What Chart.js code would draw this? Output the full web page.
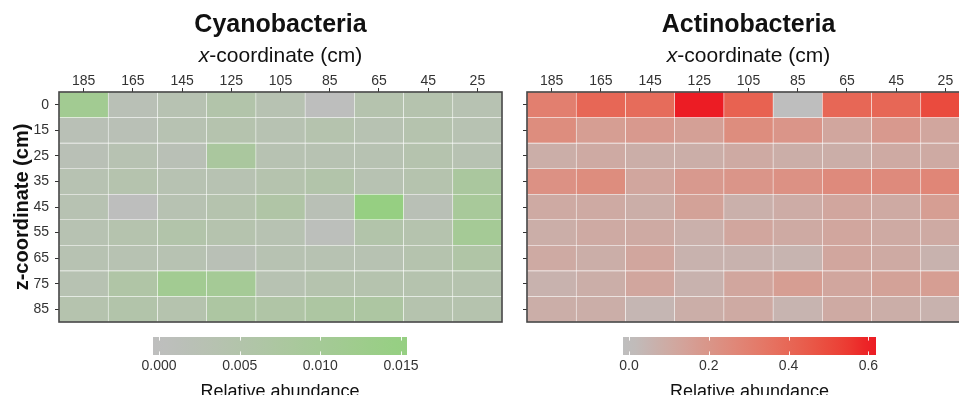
<!DOCTYPE html>
<html>
<head>
<meta charset="utf-8">
<script src="https://cdn.jsdelivr.net/npm/chart.js@4.4.1/dist/chart.umd.min.js"></script>
<style>
  html, body { margin: 0; padding: 0; background: #fff; overflow: hidden; }
  body { position: relative; width: 959px; height: 395px; }
  canvas { position: absolute; }
</style>
</head>
<body>
<canvas id="cyano" width="520" height="330" style="left:0;top:0"></canvas>
<canvas id="actino" width="480" height="330" style="left:500px;top:0"></canvas>
<canvas id="cyanoBar" width="360" height="80" style="left:100px;top:328px"></canvas>
<canvas id="actinoBar" width="380" height="80" style="left:560px;top:328px"></canvas>
<script>
const xLabels = ['185', '165', '145', '125', '105', '85', '65', '45', '25']
const zLabels = ['0', '15', '25', '35', '45', '55', '65', '75', '85']

// relative abundance: one row per z-coordinate, one column per x-coordinate
const cyanoValues = [
  [0.011, 0.002, 0.003, 0.005, 0.003, 0.0003, 0.004, 0.004, 0.003],
  [0.002, 0.002, 0.003, 0.004, 0.003, 0.004, 0.003, 0.004, 0.003],
  [0.002, 0.003, 0.002, 0.008, 0.003, 0.003, 0.003, 0.004, 0.003],
  [0.003, 0.004, 0.003, 0.003, 0.004, 0.005, 0.003, 0.004, 0.008],
  [0.003, 0.0003, 0.003, 0.004, 0.006, 0.002, 0.015, 0.002, 0.009],
  [0.003, 0.004, 0.005, 0.004, 0.003, 0.0008, 0.005, 0.004, 0.010],
  [0.003, 0.003, 0.003, 0.002, 0.003, 0.003, 0.003, 0.004, 0.006],
  [0.003, 0.006, 0.011, 0.010, 0.003, 0.004, 0.004, 0.004, 0.004],
  [0.004, 0.005, 0.004, 0.007, 0.006, 0.007, 0.007, 0.004, 0.004]
]
const actinoValues = [
  [0.30, 0.40, 0.38, 0.604, 0.42, 0.0, 0.40, 0.40, 0.50],
  [0.24, 0.16, 0.18, 0.15, 0.24, 0.20, 0.12, 0.18, 0.12],
  [0.08, 0.10, 0.08, 0.08, 0.10, 0.08, 0.08, 0.10, 0.10],
  [0.22, 0.24, 0.12, 0.18, 0.20, 0.22, 0.25, 0.25, 0.27],
  [0.10, 0.10, 0.08, 0.14, 0.07, 0.09, 0.12, 0.10, 0.16],
  [0.08, 0.10, 0.10, 0.07, 0.12, 0.10, 0.12, 0.10, 0.10],
  [0.10, 0.08, 0.12, 0.06, 0.06, 0.05, 0.12, 0.10, 0.06],
  [0.06, 0.08, 0.12, 0.06, 0.12, 0.16, 0.12, 0.14, 0.16],
  [0.08, 0.08, 0.04, 0.08, 0.10, 0.05, 0.10, 0.08, 0.06]
]

const cyanoLimits = [0, 0.015]
const actinoLimits = [0, 0.604]
const cyanoTicks = [0, 0.005, 0.010, 0.015]
const actinoTicks = [0, 0.2, 0.4, 0.6]

const FONT = '"Liberation Sans", Arial, sans-serif'
Chart.defaults.font.family = FONT
Chart.defaults.color = '#333'

// gradient between two colours, interpolated in CIELAB
function hexToRgb(h) {
  const n = parseInt(h.slice(1), 16)
  return [(n >> 16) & 255, (n >> 8) & 255, n & 255]
}
const toLinear = c => { c /= 255; return c <= 0.04045 ? c / 12.92 : Math.pow((c + 0.055) / 1.055, 2.4) }
const fromLinear = c => {
  const v = c <= 0.0031308 ? 12.92 * c : 1.055 * Math.pow(c, 1 / 2.4) - 0.055
  return Math.round(Math.min(1, Math.max(0, v)) * 255)
}
const WHITE = [0.95047, 1, 1.08883]
function rgbToLab(rgb) {
  const [r, g, b] = rgb.map(toLinear)
  const x = (0.4124 * r + 0.3576 * g + 0.1805 * b) / WHITE[0]
  const y = (0.2126 * r + 0.7152 * g + 0.0722 * b) / WHITE[1]
  const z = (0.0193 * r + 0.1192 * g + 0.9505 * b) / WHITE[2]
  const f = t => t > 0.008856 ? Math.cbrt(t) : 7.787 * t + 16 / 116
  const fx = f(x), fy = f(y), fz = f(z)
  return [116 * fy - 16, 500 * (fx - fy), 200 * (fy - fz)]
}
function labToRgb([L, a, bb]) {
  const fy = (L + 16) / 116, fx = fy + a / 500, fz = fy - bb / 200
  const finv = t => t * t * t > 0.008856 ? t * t * t : (t - 16 / 116) / 7.787
  const x = finv(fx) * WHITE[0], y = finv(fy) * WHITE[1], z = finv(fz) * WHITE[2]
  const r = 3.2406 * x - 1.5372 * y - 0.4986 * z
  const g = -0.9689 * x + 1.8758 * y + 0.0415 * z
  const b = 0.0557 * x - 0.2040 * y + 1.0570 * z
  return [r, g, b].map(fromLinear)
}
function makeColorScale(lowHex, highHex, limits) {
  const lo = rgbToLab(hexToRgb(lowHex)), hi = rgbToLab(hexToRgb(highHex))
  return v => {
    let t = (v - limits[0]) / (limits[1] - limits[0])
    t = Math.min(1, Math.max(0, t))
    const c = labToRgb(lo.map((l, i) => l + (hi[i] - l) * t))
    return `rgb(${c[0]},${c[1]},${c[2]})`
  }
}

const cyanoColor = makeColorScale('#bebebe', '#96cf82', cyanoLimits)
const actinoColor = makeColorScale('#bebebe', '#ec1c24', actinoLimits)

// frame around the panel, panel title and the x axis title (italic x)
const panelDecor = {
  id: 'panelDecor',
  afterDraw(chart, args, opts) {
    const { ctx, chartArea: a } = chart
    ctx.save()
    ctx.strokeStyle = '#454545'
    ctx.lineWidth = 1.6
    ctx.strokeRect(a.left, a.top, a.right - a.left, a.bottom - a.top)

    const cx = (a.left + a.right) / 2
    ctx.fillStyle = '#111'
    ctx.textBaseline = 'alphabetic'
    ctx.textAlign = 'center'
    ctx.font = 'bold 25px ' + FONT
    ctx.fillText(opts.title, cx, 32)

    const italic = 'italic 21px ' + FONT
    const plain = '21px ' + FONT
    const rest = '-coordinate (cm)'
    ctx.font = italic
    const w1 = ctx.measureText('x').width
    ctx.font = plain
    const w2 = ctx.measureText(rest).width
    const x0 = cx - (w1 + w2) / 2
    ctx.textAlign = 'left'
    ctx.font = italic
    ctx.fillText('x', x0, 62)
    ctx.font = plain
    ctx.fillText(rest, x0 + w1, 62)
    ctx.restore()
  }
}

function heatmap(id, title, values, colorOf, yWidth, padRight, showZ) {
  // one floating-bar dataset per z row, each bar spans one row of the reversed y scale
  const datasets = values.map((row, r) => ({
    data: row.map(() => [r - 0.5, r + 0.5]),
    backgroundColor: row.map(colorOf),
    borderColor: 'rgba(255,255,255,0.14)',
    borderWidth: 0.6,
    borderSkipped: false,
    grouped: false,
    barPercentage: 1,
    categoryPercentage: 1
  }))

  return new Chart(document.getElementById(id), {
    type: 'bar',
    data: { labels: xLabels, datasets },
    options: {
      responsive: false,
      animation: false,
      layout: { padding: { left: 0, right: padRight, top: 0, bottom: 8 } },
      plugins: {
        legend: { display: false },
        tooltip: { enabled: false },
        panelDecor: { title }
      },
      scales: {
        x: {
          type: 'category',
          position: 'top',
          offset: true,
          afterFit: s => { s.height = 92; s.paddingLeft = 0; s.paddingRight = 0 },
          grid: { offset: false, drawOnChartArea: false, tickLength: 4, color: '#333' },
          border: { display: false },
          ticks: { autoSkip: false, maxRotation: 0, padding: -2, color: '#333', font: { size: 14 } }
        },
        y: {
          type: 'linear',
          reverse: true,
          min: -0.5,
          max: zLabels.length - 0.5,
          afterBuildTicks: s => { s.ticks = zLabels.map((_, i) => ({ value: i })) },
          afterFit: s => { s.width = yWidth; s.paddingTop = 0; s.paddingBottom = 0 },
          grid: { drawOnChartArea: false, tickLength: 4, color: '#333' },
          border: { display: false },
          ticks: {
            display: showZ,
            autoSkip: false,
            padding: 6,
            color: '#333',
            font: { size: 14 },
            callback: v => zLabels[v]
          },
          title: {
            display: showZ,
            text: 'z-coordinate (cm)',
            color: '#111',
            font: { size: 20, weight: 'bold' },
            padding: { top: 10, bottom: 0 }
          }
        }
      }
    },
    plugins: [panelDecor]
  })
}

// short white marks on the colour bar at each break
const barTicks = {
  id: 'barTicks',
  afterDatasetsDraw(chart, args, opts) {
    const { ctx, chartArea: a, scales: { x } } = chart
    const h = (a.bottom - a.top) / 5
    ctx.save()
    ctx.strokeStyle = 'rgba(255,255,255,0.9)'
    ctx.lineWidth = 1
    opts.ticks.forEach(v => {
      const px = Math.round(x.getPixelForValue(v)) + 0.5
      ctx.beginPath()
      ctx.moveTo(px, a.top)
      ctx.lineTo(px, a.top + h)
      ctx.moveTo(px, a.bottom - h)
      ctx.lineTo(px, a.bottom)
      ctx.stroke()
    })
    ctx.restore()
  }
}

function colorbar(id, limits, ticks, colorOf, digits, padLeft, padRight) {
  // bar runs half a bin past each limit
  const pad = (limits[1] - limits[0]) / 40
  const lo = limits[0] - pad, hi = limits[1] + pad
  return new Chart(document.getElementById(id), {
    type: 'bar',
    data: {
      labels: [''],
      datasets: [{
        data: [[lo, hi]],
        backgroundColor: c => {
          const xs = c.chart.scales.x
          if (!c.chart.chartArea || !xs) return 'transparent'
          const g = c.chart.ctx.createLinearGradient(xs.getPixelForValue(lo), 0, xs.getPixelForValue(hi), 0)
          for (let i = 0; i <= 20; i++) {
            g.addColorStop(i / 20, colorOf(lo + (hi - lo) * i / 20))
          }
          return g
        },
        borderWidth: 0,
        barPercentage: 1,
        categoryPercentage: 1
      }]
    },
    options: {
      indexAxis: 'y',
      responsive: false,
      animation: false,
      layout: { padding: { left: padLeft, right: padRight, top: 9, bottom: 0 } },
      plugins: {
        legend: { display: false },
        tooltip: { enabled: false },
        barTicks: { ticks }
      },
      scales: {
        y: { display: false },
        x: {
          type: 'linear',
          min: lo,
          max: hi,
          afterBuildTicks: s => { s.ticks = ticks.map(v => ({ value: v })) },
          afterFit: s => { s.height = 53; s.paddingLeft = 0; s.paddingRight = 0 },
          grid: { display: false, drawTicks: false },
          border: { display: false },
          ticks: { padding: 3, color: '#333', font: { size: 14 }, callback: v => v.toFixed(digits) },
          title: {
            display: true,
            text: 'Relative abundance',
            color: '#111',
            font: { size: 18 },
            padding: { top: 0, bottom: 5 }
          }
        }
      }
    },
    plugins: [barTicks]
  })
}

heatmap('cyano', 'Cyanobacteria', cyanoValues, cyanoColor, 59, 18, true)
heatmap('actino', 'Actinobacteria', actinoValues, actinoColor, 27, 10, false)
colorbar('cyanoBar', cyanoLimits, cyanoTicks, cyanoColor, 3, 53, 53)
colorbar('actinoBar', actinoLimits, actinoTicks, actinoColor, 1, 63, 64)
</script>
</body>
</html>
